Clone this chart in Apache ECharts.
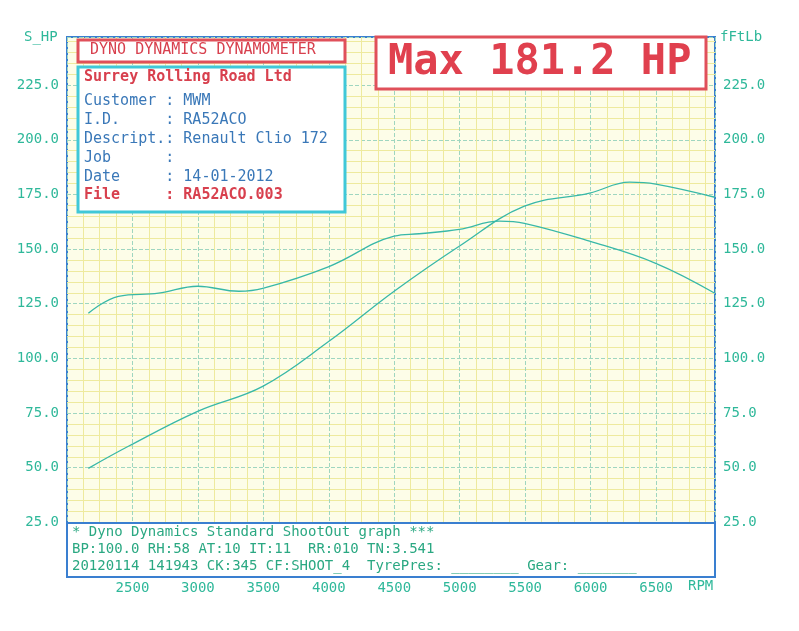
<!DOCTYPE html>
<html>
<head>
<meta charset="utf-8">
<script src="https://cdn.jsdelivr.net/npm/echarts@6/dist/echarts.min.js"></script>
<style>body{margin:0;background:#fff}#main{width:799px;height:631px}</style>
</head>
<body>
<div id="main"></div>
<script>
// rpm sample points
var powerRpm = [2163, 2469, 2998, 3495, 4001, 4499, 4996, 5494, 5992, 6298, 6497, 6949];
var powerHp = [49.7, 59.8, 75.8, 87.2, 107.8, 130.7, 151.3, 169.6, 175.6, 180.6, 179.7, 173.7];
var torqueRpm = [2163, 2393, 2699, 2998, 3312, 3495, 4001, 4499, 4690, 4996, 5302, 5494, 5992, 6497, 6949];
var torqueFtLb = [120.6, 128.4, 129.8, 133, 130.7, 132, 142, 155.9, 157, 159, 162.8, 161.8, 153.6, 143.5, 129.8];

var green = '#2fb89a';
var mono = 'DejaVu Sans Mono';
var myChart = echarts.init(document.getElementById('main'));

function pairs(xs, ys) {
  return xs.map(function (x, i) { return [x, ys[i]]; });
}
function yLabel(v) { return v >= 25 && v <= 225 ? v.toFixed(1) : ''; }

var yBase = {
  type: 'value', min: 0, max: 247, interval: 25,
  axisLine: {show: false}, axisTick: {show: false},
  axisLabel: {formatter: yLabel, color: green, fontFamily: mono, fontSize: 14, showMaxLabel: false}
};

var option = {
  animation: false,
  grid: {left: 67, right: 84, top: 37, bottom: 54, show: true, backgroundColor: '#fdfde8', borderColor: '#3a7fd0', borderWidth: 2},
  xAxis: {
    type: 'value', min: 2000, max: 6950, interval: 500,
    axisLine: {show: false}, axisTick: {show: false},
    axisLabel: {formatter: function (v) { return v > 2000 && v < 6950 ? v : ''; }, color: green, fontFamily: mono, fontSize: 14, showMaxLabel: false, margin: 4},
    splitLine: {lineStyle: {color: '#9fd6c0', type: 'dashed', width: 1}},
    minorTick: {show: true, splitNumber: 4, length: 0},
    minorSplitLine: {show: true, lineStyle: {color: '#eeea9e', width: 1}}
  },
  yAxis: [
    Object.assign({}, yBase, {
      position: 'left',
      splitLine: {lineStyle: {color: '#9fd6c0', type: 'dashed'}},
      minorTick: {show: true, splitNumber: 5, length: 0},
      minorSplitLine: {show: true, lineStyle: {color: '#eeea9e'}}
    }),
    Object.assign({}, yBase, {position: 'right', splitLine: {show: false}})
  ],
  series: [
    {name: 'HP', type: 'line', smooth: 0.4, symbol: 'none', data: pairs(powerRpm, powerHp), lineStyle: {color: '#38b8a8', width: 1.3}, z: 5},
    {name: 'FtLb', type: 'line', smooth: 0.4, symbol: 'none', yAxisIndex: 1, data: pairs(torqueRpm, torqueFtLb), lineStyle: {color: '#38b8a8', width: 1.3}, z: 5}
  ],
  graphic: [
    {type: 'text', left: 24, top: 30, style: {text: 'S_HP', fill: green, font: '14px ' + mono}},
    {type: 'text', left: 720, top: 30, style: {text: 'fFtLb', fill: green, font: '14px ' + mono}},
    {type: 'text', left: 688, top: 579, style: {text: 'RPM', fill: green, font: '14px ' + mono}},
    // title box
    {type: 'rect', shape: {x: 78, y: 40, width: 267, height: 22}, style: {fill: '#fff', stroke: '#e0505a', lineWidth: 3}, z: 10},
    {type: 'text', x: 90, y: 43, style: {text: 'DYNO DYNAMICS DYNAMOMETER', fill: '#d8404e', font: '15px ' + mono}, z: 11},
    // info box
    {type: 'rect', shape: {x: 78, y: 67, width: 267, height: 145}, style: {fill: '#fff', stroke: '#40c8d8', lineWidth: 3}, z: 10},
    {type: 'text', x: 84, y: 70, style: {text: 'Surrey Rolling Road Ltd', fill: '#d8404e', font: 'bold 15px ' + mono}, z: 11},
    {type: 'text', x: 84, y: 92, style: {text: 'Customer : MWM\nI.D.     : RA52ACO\nDescript.: Renault Clio 172\nJob      :\nDate     : 14-01-2012', fill: '#3a78b8', font: '15px ' + mono, lineHeight: 19}, z: 11},
    {type: 'text', x: 84, y: 188, style: {text: 'File     : RA52ACO.003', fill: '#d8404e', font: 'bold 15px ' + mono}, z: 11},
    // max box
    {type: 'rect', shape: {x: 376, y: 37, width: 330, height: 52}, style: {fill: '#fff', stroke: '#e0505a', lineWidth: 3}, z: 10},
    {type: 'text', x: 388, y: 42, style: {text: 'Max 181.2 HP', fill: '#e0404e', font: 'bold 42px ' + mono}, z: 11},
    // bottom info
    {type: 'rect', shape: {x: 67, y: 523, width: 648, height: 54}, style: {fill: '#fff', stroke: '#3a7fd0', lineWidth: 2}, z: 10},
    {type: 'text', x: 72, y: 524, style: {text: '* Dyno Dynamics Standard ShootOut graph ***\nBP:100.0 RH:58 AT:10 IT:11  RR:010 TN:3.541\n20120114 141943 CK:345 CF:SHOOT_4  TyrePres: ________ Gear: _______', fill: '#2aa882', font: '14px ' + mono, lineHeight: 17}, z: 11}
  ]
};
myChart.setOption(option);
</script>
</body>
</html>
